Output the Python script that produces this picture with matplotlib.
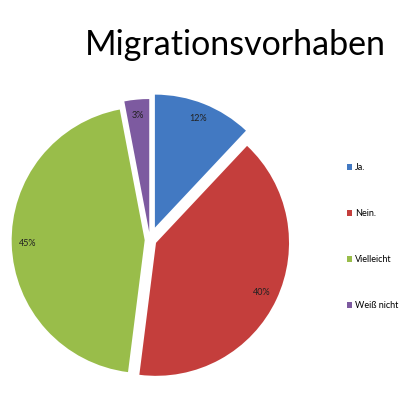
import matplotlib.pyplot as plt
from matplotlib.patches import Patch

plt.rcParams['font.family'] = ['Lato', 'DejaVu Sans']

labels = ['Ja.', 'Nein.', 'Vielleicht', 'Weiß nicht']
values = [12, 40, 45, 3]
colors = ['#4279c2', '#c43e3c', '#99bd4a', '#7d5aa0']
explode = [0.1, 0.05, 0.04, 0.06]

fig = plt.figure(figsize=(4, 4), dpi=100)
fig.patch.set_facecolor('white')

# pie centre ~ (150, 240) px from top, radius ~133 px
R = 133
lim = 1.3
size = 2 * lim * R / 400
ax = fig.add_axes([150 / 400 - size / 2, (400 - 240) / 400 - size / 2, size, size])
wedges, texts, autotexts = ax.pie(
    values, colors=colors, explode=explode, startangle=90, counterclock=False,
    autopct='%1.0f%%', pctdistance=0.88,
    wedgeprops=dict(edgecolor='none', clip_on=False),
    textprops=dict(fontsize=6.5, color='#222222'))
ax.set_xlim(-lim, lim)
ax.set_ylim(-lim, lim)
ax.set_aspect('equal')
ax.axis('off')

fig.text(0.589, 0.888, 'Migrationsvorhaben', fontsize=24.5, ha='center', va='center',
         color='black')

handles = [Patch(facecolor=c, edgecolor='none') for c in colors]
fig.legend(handles, labels, loc='upper left', bbox_to_anchor=(0.855, 0.603),
           frameon=False, fontsize=6.5, handlelength=0.6, handleheight=0.6,
           handletextpad=0.3, labelspacing=4.1, borderpad=0)

fig.savefig('out.png', dpi=100, facecolor='white')
